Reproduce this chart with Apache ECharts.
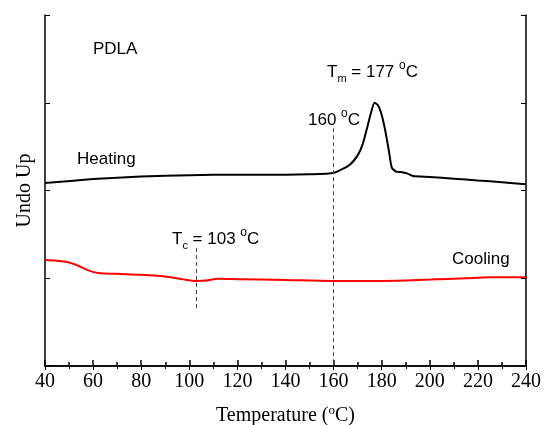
<!DOCTYPE html>
<html lang="en">
<head>
    <meta charset="UTF-8">
    <title>PDLA DSC</title>
    <script type="text/javascript" src="https://cdn.jsdelivr.net/npm/echarts@6/dist/echarts.min.js"></script>
</head>
<body style="margin:0">
<div id="main" style="width: 544px;height:425px;"></div>
<script type="text/javascript">
    // heating trace (black)
    var heatingTemp = [40, 60, 80, 100, 120, 140, 150, 160, 164, 167, 170, 172, 174, 175.5, 177, 178.5, 180, 181.5, 183, 184.2, 186, 188, 190.5, 193, 200, 210, 220, 230, 240];
    var heatingSignal = [2.085, 2.13, 2.16, 2.175, 2.18, 2.18, 2.185, 2.20, 2.25, 2.30, 2.40, 2.52, 2.72, 2.88, 3.00, 2.97, 2.86, 2.68, 2.45, 2.26, 2.215, 2.21, 2.195, 2.165, 2.155, 2.135, 2.115, 2.095, 2.07];
    // cooling trace (red)
    var coolingTemp = [40, 45, 50, 54, 58, 62, 70, 80, 90, 97, 103, 107, 112, 120, 140, 160, 180, 200, 215, 225, 240];
    var coolingSignal = [1.208, 1.20, 1.18, 1.14, 1.09, 1.06, 1.05, 1.04, 1.02, 0.99, 0.97, 0.975, 0.995, 0.99, 0.98, 0.97, 0.97, 0.985, 1.0, 1.01, 1.01];
    // dashed markers: [temp, top, bottom]
    var meltMarker = [160, 2.71, 0];
    var crystMarker = [103, 1.345, 0.63];
    var xTicks = [40, 60, 80, 100, 120, 140, 160, 180, 200, 220, 240];

    function pairs(xs, ys) {
        return xs.map(function (x, i) { return [x, ys[i]]; });
    }

    var serif = 'Liberation Serif';
    var sans = 'Liberation Sans';
    var rich = {
        n: {fontFamily: sans, fontSize: 17, color: '#000', lineHeight: 24, verticalAlign: 'middle'},
        sub: {fontFamily: sans, fontSize: 11, color: '#000', lineHeight: 24, verticalAlign: 'bottom'},
        sup: {fontFamily: sans, fontSize: 12, color: '#000', lineHeight: 24, verticalAlign: 'top'}
    };

    function txt(x, y, str) {
        return {type: 'text', left: x, top: y, style: {text: str, rich: rich}};
    }

    var dashStyle = {color: '#444', type: [4, 3], width: 1};

    var option = {
        animation: false,
        grid: {left: 45, right: 18, top: 15, bottom: 59, outerBoundsMode: 'none'},
        xAxis: [
            {
                type: 'value', min: xTicks[0], max: xTicks[xTicks.length - 1], interval: 20,
                name: '{a|Temperature (}{s|o}{a|C)}', nameLocation: 'middle', nameGap: 38,
                nameTextStyle: {
                    rich: {
                        a: {fontFamily: serif, fontSize: 20, color: '#000', lineHeight: 24, verticalAlign: 'middle'},
                        s: {fontFamily: serif, fontSize: 13, color: '#000', lineHeight: 24, verticalAlign: 'top'}
                    }
                },
                axisLine: {lineStyle: {color: '#000', width: 1.5}},
                axisTick: {inside: true, length: 6, lineStyle: {color: '#000', width: 1.5}},
                minorTick: {show: true, splitNumber: 2, length: 4, lineStyle: {color: '#000', width: 1.5}},
                axisLabel: {fontFamily: serif, fontSize: 20, color: '#000', margin: 6},
                splitLine: {show: false}
            },
            {
                type: 'value', position: 'top', min: 40, max: 240, interval: 20,
                axisLine: {lineStyle: {color: '#000', width: 1.5}},
                axisTick: {inside: true, length: 4, lineStyle: {color: '#000'}},
                minorTick: {show: true, splitNumber: 2, length: 3, lineStyle: {color: '#000'}},
                axisLabel: {show: false},
                splitLine: {show: false}
            }
        ],
        yAxis: [
            {
                type: 'value', min: 0, max: 4, interval: 1,
                name: 'Undo Up', nameLocation: 'middle', nameGap: 10,
                nameTextStyle: {fontFamily: serif, fontSize: 20, color: '#000'},
                axisLine: {show: true, lineStyle: {color: '#000', width: 1.5}},
                axisTick: {inside: true, length: 5, lineStyle: {color: '#000'}},
                axisLabel: {show: false},
                splitLine: {show: false}
            },
            {
                type: 'value', min: 0, max: 4, interval: 1, position: 'right',
                axisLine: {show: true, lineStyle: {color: '#000', width: 1.5}},
                axisTick: {inside: true, length: 5, lineStyle: {color: '#000'}},
                axisLabel: {show: false},
                splitLine: {show: false}
            }
        ],
        series: [
            {
                name: 'Heating', type: 'line', data: pairs(heatingTemp, heatingSignal),
                showSymbol: false, smooth: 0.2,
                lineStyle: {color: '#000', width: 2},
                markLine: {
                    silent: true, symbol: 'none', label: {show: false}, lineStyle: dashStyle,
                    data: [[{coord: [meltMarker[0], meltMarker[1]]}, {coord: [meltMarker[0], meltMarker[2]]}]]
                }
            },
            {
                name: 'Cooling', type: 'line', data: pairs(coolingTemp, coolingSignal),
                showSymbol: false, smooth: 0.3,
                lineStyle: {color: '#ff0000', width: 2},
                markLine: {
                    silent: true, symbol: 'none', label: {show: false}, lineStyle: dashStyle,
                    data: [[{coord: [crystMarker[0], crystMarker[1]]}, {coord: [crystMarker[0], crystMarker[2]]}]]
                }
            }
        ],
        graphic: [
            txt(93, 41, '{n|PDLA}'),
            txt(77, 151, '{n|Heating}'),
            txt(327, 60, '{n|T}{sub|m}{n| = 177 }{sup|o}{n|C}'),
            txt(308, 108, '{n|160 }{sup|o}{n|C}'),
            txt(172, 227, '{n|T}{sub|c}{n| = 103 }{sup|o}{n|C}'),
            txt(452, 251, '{n|Cooling}')
        ]
    };

    var myChart = echarts.init(document.getElementById('main'));
    myChart.setOption(option);
</script>
</body>
</html>
